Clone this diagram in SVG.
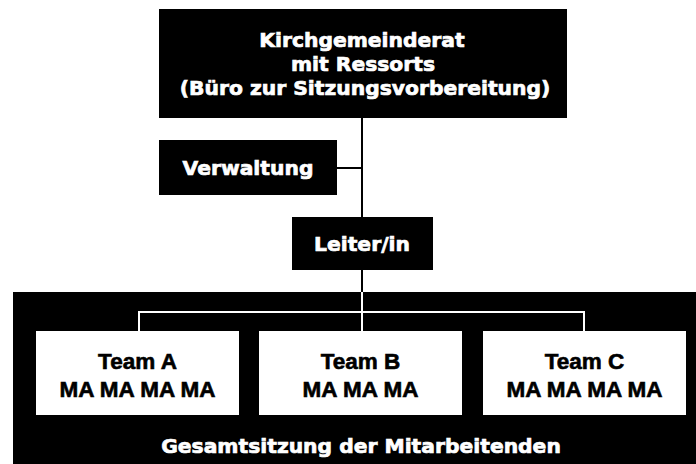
<svg xmlns="http://www.w3.org/2000/svg" width="696" height="464" viewBox="0 0 696 464">
<style>
.dark{fill:#000}
.light{fill:#fff}
.wt{fill:#fff;stroke:#fff;stroke-width:0.7;font-family:"DejaVu Sans",sans-serif;font-weight:bold;font-size:20.3px;text-anchor:middle}
.bt{fill:#000;stroke:#000;stroke-width:0.6;font-family:"Liberation Sans",Arial,sans-serif;font-weight:bold;font-size:22.5px;text-anchor:middle}
.cb{stroke:#000;stroke-width:2;fill:none}
.cw{stroke:#fff;stroke-width:2;fill:none}
</style>
<rect width="696" height="464" fill="#fff"/>
<g id="gesamtsitzung">
<rect class="dark" x="13" y="292" width="683" height="172"/>
<text class="wt" x="361" y="453">Gesamtsitzung der Mitarbeitenden</text>
</g>
<g id="connectors">
<path class="cb" d="M362 118V292M337 168H362"/>
<path class="cw" d="M362 292V331M139 331V312H584V331"/>
</g>
<g id="kirchgemeinderat">
<rect class="dark" x="159" y="9" width="408" height="109"/>
<text class="wt" x="362" y="47">Kirchgemeinderat</text>
<text class="wt" x="363" y="71">mit Ressorts</text>
<text class="wt" x="365" y="95">(Büro zur Sitzungsvorbereitung)</text>
</g>
<g id="verwaltung">
<rect class="dark" x="159" y="140" width="178" height="55"/>
<text class="wt" x="248" y="175">Verwaltung</text>
</g>
<g id="leiter">
<rect class="dark" x="292" y="217" width="141" height="53"/>
<text class="wt" x="362" y="251">Leiter/in</text>
</g>
<g id="team-a">
<rect class="light" x="36" y="331" width="203" height="84"/>
<text class="bt" x="137.5" y="369">Team A</text>
<text class="bt" x="137.5" y="397">MA MA MA MA</text>
</g>
<g id="team-b">
<rect class="light" x="259" y="331" width="203" height="84"/>
<text class="bt" x="360.5" y="369">Team B</text>
<text class="bt" x="360.5" y="397">MA MA MA</text>
</g>
<g id="team-c">
<rect class="light" x="483" y="331" width="203" height="84"/>
<text class="bt" x="584.5" y="369">Team C</text>
<text class="bt" x="584.5" y="397">MA MA MA MA</text>
</g>
</svg>
